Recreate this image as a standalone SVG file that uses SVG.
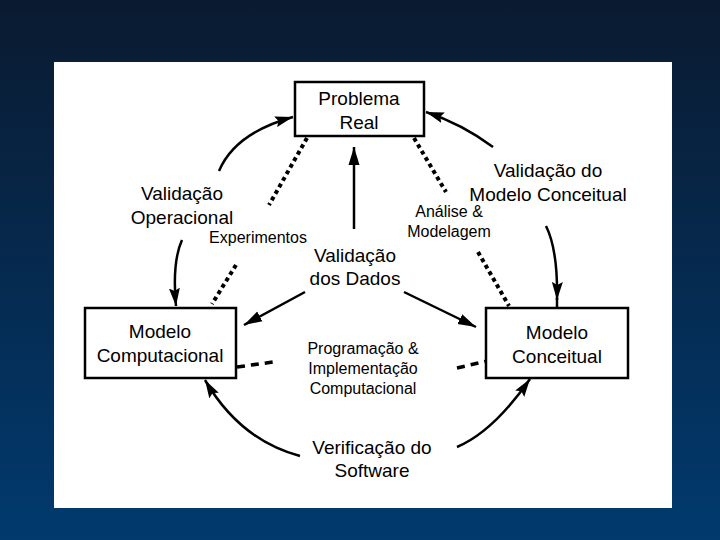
<svg xmlns="http://www.w3.org/2000/svg" width="720" height="540" viewBox="0 0 720 540">
<defs>
<linearGradient id="bg" x1="0" y1="0" x2="0" y2="1">
<stop offset="0" stop-color="#0a1a30"/>
<stop offset="1" stop-color="#013a6e"/>
</linearGradient>
<marker id="ah" markerUnits="userSpaceOnUse" markerWidth="20" markerHeight="12" refX="18" refY="6" orient="auto">
<path d="M0,0.5 L18,6 L0,11.5 L3,6 z" fill="#000"/>
</marker>
<marker id="ahs" markerUnits="userSpaceOnUse" markerWidth="20" markerHeight="12" refX="18" refY="6" orient="auto">
<path d="M0,0.5 L18,6 L0,11.5 z" fill="#000"/>
</marker>
<style>
.box{fill:#fff;stroke:#000;stroke-width:2.5}
.t{font-family:"Liberation Sans",Arial,sans-serif;font-size:19px;fill:#000;text-anchor:middle}
.s{font-family:"Liberation Sans",Arial,sans-serif;font-size:16px;fill:#000;text-anchor:middle}
.ln{fill:none;stroke:#000;stroke-width:2.5}
.dot{fill:none;stroke:#000;stroke-width:4;stroke-dasharray:4 3.5}
.dash{fill:none;stroke:#000;stroke-width:3.5;stroke-dasharray:8 6}
</style>
</defs>
<rect x="0" y="0" width="720" height="540" fill="url(#bg)"/>
<rect x="54" y="62" width="618" height="446" fill="#fff"/>

<g id="connectors">
<path class="ln" d="M219,171 Q235,133 293,117" marker-end="url(#ah)"/>
<path class="ln" d="M493,147 Q462,124 426,112" marker-end="url(#ah)"/>
<path class="ln" d="M546,226 Q558,250 557,300" marker-end="url(#ah)"/>
<path class="ln" d="M557,298 L557,308"/>
<path class="ln" d="M182,240 Q172,262 176,306" marker-end="url(#ah)"/>
<path class="ln" d="M300,456 Q240,440 205,380" marker-end="url(#ah)"/>
<path class="ln" d="M457,447 Q493,432 530,379" marker-end="url(#ah)"/>
<path class="ln" d="M354,229 L354,147" marker-end="url(#ahs)"/>
<path class="ln" d="M305,292 L244,325" marker-end="url(#ahs)"/>
<path class="ln" d="M404,292 L476,327" marker-end="url(#ahs)"/>
<path class="dot" d="M307,138 L269,205"/>
<path class="dot" d="M236,265 L212,304"/>
<path class="dot" d="M414,138 L446,192"/>
<path class="dot" d="M478,252 L509,306"/>
<path class="dash" d="M237,367 L273,362"/>
<path class="dash" d="M457,368 L487,361"/>
</g>

<g id="problema-real">
<rect class="box" x="295" y="82" width="129" height="54"/>
<text class="t" x="359" y="105">Problema</text>
<text class="t" x="359" y="129">Real</text>
</g>
<g id="modelo-computacional">
<rect class="box" x="85" y="308" width="151" height="70"/>
<text class="t" x="160" y="338">Modelo</text>
<text class="t" x="160" y="362">Computacional</text>
</g>
<g id="modelo-conceitual">
<rect class="box" x="486" y="308" width="142" height="70"/>
<text class="t" x="557" y="339">Modelo</text>
<text class="t" x="557" y="363">Conceitual</text>
</g>

<g id="labels">
<text class="t" x="182" y="200">Validação</text>
<text class="t" x="182" y="224">Operacional</text>
<text class="s" x="258" y="243">Experimentos</text>
<text class="t" x="355" y="262">Validação</text>
<text class="t" x="355" y="285">dos Dados</text>
<text class="t" x="548" y="177">Validação do</text>
<text class="t" x="548" y="201">Modelo Conceitual</text>
<text class="s" x="449" y="217">Análise &amp;</text>
<text class="s" x="449" y="237">Modelagem</text>
<text class="s" x="363" y="354">Programação &amp;</text>
<text class="s" x="363" y="374">Implementação</text>
<text class="s" x="363" y="394">Computacional</text>
<text class="t" x="372" y="454">Verificação do</text>
<text class="t" x="372" y="477">Software</text>
</g>
</svg>
